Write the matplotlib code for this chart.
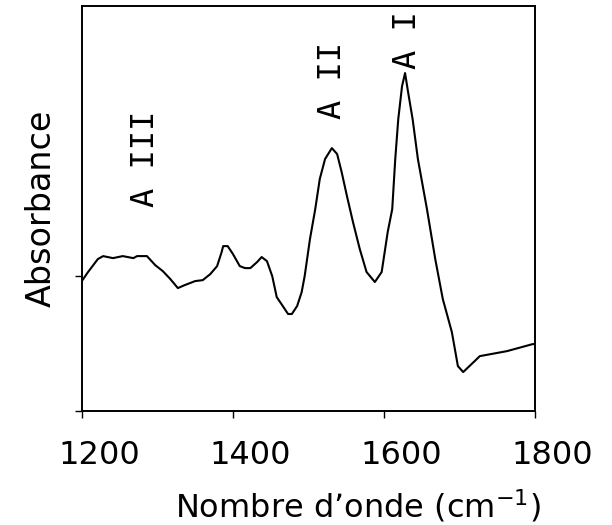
import matplotlib
matplotlib.use("Agg")
import matplotlib.pyplot as plt
import matplotlib.transforms as mtransforms

wavenumber = [1200, 1208, 1221, 1228, 1241, 1254, 1268, 1273, 1286, 1297,
              1307, 1317, 1327, 1336, 1350, 1360, 1370, 1379, 1385, 1387,
              1393, 1400, 1409, 1416, 1423, 1432, 1438, 1445, 1452, 1458,
              1466, 1473, 1478, 1485, 1491, 1495, 1502, 1509, 1515, 1522,
              1531, 1538, 1544, 1551, 1559, 1568, 1577, 1588, 1597, 1605,
              1611, 1615, 1619, 1624, 1628, 1632, 1638, 1645, 1657, 1668,
              1678, 1690, 1698, 1705, 1723, 1727, 1763, 1797, 1800]
absorbance = [0.965, 1.03, 1.126, 1.148, 1.133, 1.148, 1.133, 1.148, 1.148, 1.081,
              1.037, 0.978, 0.911, 0.933, 0.963, 0.970, 1.015, 1.074, 1.178, 1.222,
              1.222, 1.163, 1.074, 1.059, 1.059, 1.104, 1.141, 1.111, 1.0, 0.844,
              0.778, 0.719, 0.719, 0.778, 0.881, 1.0, 1.274, 1.496, 1.719, 1.867,
              1.948, 1.904, 1.770, 1.593, 1.4, 1.2, 1.03, 0.956, 1.03, 1.326,
              1.496, 1.867, 2.163, 2.407, 2.504, 2.363, 2.163, 1.867, 1.496, 1.126,
              0.830, 0.585, 0.333, 0.289, 0.385, 0.407, 0.444, 0.496, 0.496]

x_ticks = [1200, 1400, 1600, 1800]
x_ticklabels = ["1200", "1400", "1600", "1800"]
y_ticks = [0, 1]

band_labels = ["A III", "A II", "A I"]
band_x = [1284, 1532, 1631]
band_y = [1.867, 2.45, 2.75]

fig = plt.figure(figsize=(6.12, 5.25), dpi=100)
ax = fig.add_axes([0.134, 0.217, 0.740, 0.7714])

ax.plot(wavenumber, absorbance, color="black", linewidth=1.5)

ax.set_xlim(1200, 1800)
ax.set_ylim(0, 3)
ax.set_xticks(x_ticks)
ax.set_xticklabels(x_ticklabels, fontsize=23, family="DejaVu Sans")
ax.set_yticks(y_ticks)
ax.set_yticklabels([])
ax.tick_params(axis="both", direction="out", length=5, width=1, color="black")
ax.tick_params(axis="x", pad=16)

for s in ax.spines.values():
    s.set_linewidth(1.4)
    s.set_color("black")

offset = mtransforms.ScaledTranslation(17 / 100, 0, fig.dpi_scale_trans)
for lab in ax.get_xticklabels():
    lab.set_transform(lab.get_transform() + offset)

ax.set_xlabel("Nombre d\u2019onde (cm$^{-1}$)", fontsize=23, family="DejaVu Sans")
ax.xaxis.set_label_coords(0.608, -0.19)
ax.set_ylabel("Absorbance", fontsize=24, family="DejaVu Sans")
ax.yaxis.set_label_coords(-0.09, 0.5)
ax.yaxis.label.set_va("center")

for lab, bx, by in zip(band_labels, band_x, band_y):
    ax.text(bx, by, lab, rotation=90, ha="center", va="center",
            fontsize=23, family="DejaVu Sans Mono", color="black")

fig.savefig("out.png", dpi=100)
